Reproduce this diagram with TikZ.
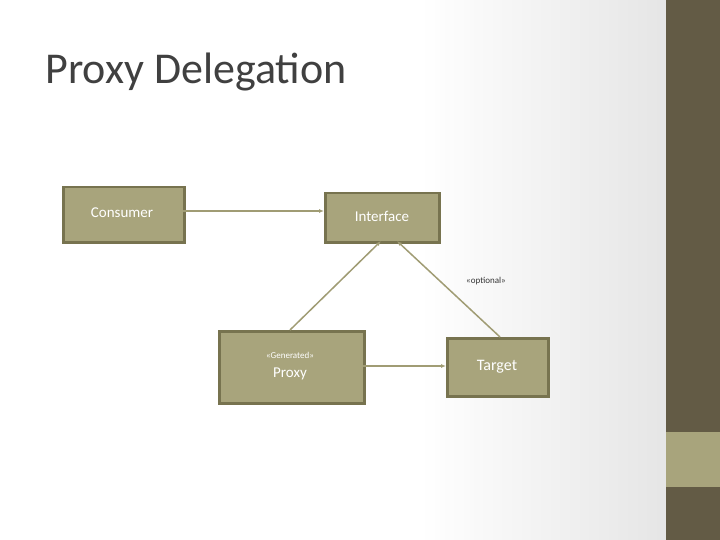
\documentclass[tikz,border=0pt]{standalone}
\usepackage{fontspec}
\setmainfont{Carlito}
\usetikzlibrary{arrows.meta}
\definecolor{boxfill}{HTML}{A8A47C}
\definecolor{boxline}{HTML}{77734F}
\definecolor{stripe}{HTML}{635B45}
\definecolor{arr}{HTML}{A09C74}
\begin{document}
\begin{tikzpicture}[x=1pt,y=-1pt,
  cls/.style={draw=boxline,line width=2.5pt,fill=boxfill,text=white,inner sep=0pt,anchor=north west},
  conn/.style={draw=arr,line width=1.5pt,-{Latex[length=5pt,width=4pt]}}]
\useasboundingbox (0,0) rectangle (720,540);
\fill[white] (0,0) rectangle (420,540);
\shade[left color=white,right color=white!90!black] (420,0) rectangle (666,540);
\fill[stripe] (666,0) rectangle (720,540);
\fill[boxfill] (666,432) rectangle (720,487);
\node[anchor=base west,text=black!75,font=\fontsize{44}{50}\selectfont] (title) at (42,84) {Proxy Delegation};
\node[cls,minimum width=121pt,minimum height=55pt] (cons) at (62,186) {};
\node[text=white,font=\fontsize{15}{18}\selectfont] (consT) at (122,213) {Consumer};
\node[cls,minimum width=114pt,minimum height=49pt] (intf) at (324,192) {};
\node[text=white,font=\fontsize{15}{18}\selectfont] (intfT) at (382,216) {Interface};
\node[cls,minimum width=145pt,minimum height=72pt] (prox) at (218,330) {};
\node[text=white,font=\fontsize{9}{11}\selectfont] (gen) at (290,355) {<<Generated>>};
\node[text=white,font=\fontsize{15}{18}\selectfont] (proxT) at (290,374) {Proxy};
\node[cls,minimum width=101pt,minimum height=58pt] (targ) at (446,337) {};
\node[text=white,font=\fontsize{16}{19}\selectfont] (targT) at (497,367) {Target};
\node[text=black!80,font=\fontsize{9}{11}\selectfont] (opt) at (486,281) {<<optional>>};
\coordinate (a1) at (183,211); \coordinate (a2) at (324,211);
\coordinate (b1) at (290,330); \coordinate (b2) at (381,241);
\coordinate (c1) at (500,337); \coordinate (c2) at (397,241);
\coordinate (d1) at (363,366); \coordinate (d2) at (446,366);
\draw[conn] (a1) -- (a2);
\draw[conn] (b1) -- (b2);
\draw[conn] (c1) -- (c2);
\draw[conn] (d1) -- (d2);
\end{tikzpicture}
\end{document}
